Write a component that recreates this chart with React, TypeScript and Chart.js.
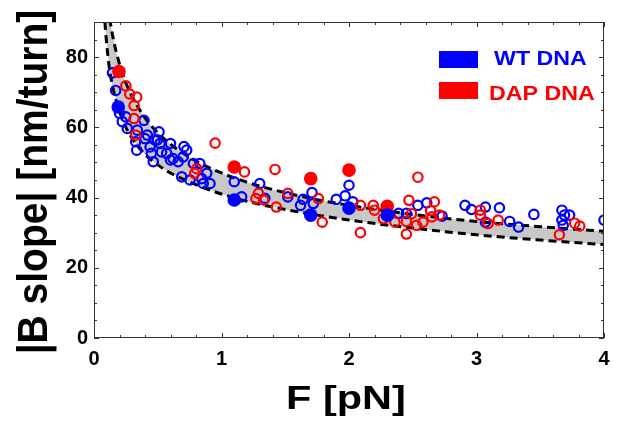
import { useEffect, useRef } from "react";
import { Chart, registerables } from "chart.js";

Chart.register(...registerables);

// ---- data ----
const curveF = [0.085, 0.1, 0.12, 0.15, 0.2, 0.25, 0.3, 0.4, 0.5, 0.6, 0.8, 1.0, 1.25, 1.5, 1.75, 2.0, 2.5, 3.0, 3.5, 4.0];
const upperB = [102, 97, 91.7, 85.4, 78, 72.7, 68.7, 62.7, 58.5, 55.2, 50.4, 47, 43.8, 41.4, 39.4, 37.8, 35.2, 33.2, 31.7, 30.4];
const lowerB = [90, 83.5, 77, 71, 64.5, 60, 56.8, 52.3, 49.3, 47, 43.7, 41, 38.5, 36.6, 35, 33.6, 31.3, 29.4, 27.9, 26.6];

const wtOpen: [number, number][] = [
  [0.145, 75.5], [0.17, 70.5], [0.2, 64], [0.222, 61.6], [0.249, 63], [0.261, 59.7],
  [0.327, 55.9], [0.335, 53.5], [0.34, 59.2], [0.392, 62], [0.4, 56.8], [0.418, 57.8],
  [0.44, 54.4], [0.45, 52.6], [0.465, 50.2], [0.478, 56.4], [0.497, 56.4], [0.51, 58.7],
  [0.518, 55.4], [0.53, 53], [0.57, 52.6], [0.6, 50.7], [0.6, 55.4], [0.62, 51.1],
  [0.66, 50.2], [0.688, 45.9], [0.7, 51.6], [0.706, 54.5], [0.727, 53.5], [0.753, 45],
  [0.78, 49.7], [0.83, 49.7], [0.845, 45.4], [0.857, 44], [0.884, 46.9], [0.91, 44],
  [1.1, 44.5], [1.158, 40.2], [1.3, 44], [1.34, 39.8], [1.52, 40.2], [1.62, 37.8],
  [1.64, 39.5], [1.71, 41.4], [1.72, 38.3], [1.9, 39.5], [1.97, 40.5], [2.0, 43.5],
  [2.03, 38.8], [2.39, 35.5], [2.45, 35.5], [2.54, 37.8], [2.61, 38.5], [2.73, 34.7],
  [2.91, 37.8], [2.96, 36.6], [3.07, 37.3], [3.07, 33], [3.18, 37.1], [3.26, 33.2],
  [3.33, 31.6], [3.45, 35.2], [3.67, 36.4], [3.69, 35], [3.67, 33.6], [3.68, 32.1],
  [3.73, 35], [4.0, 33.6],
];

const dapOpen: [number, number][] = [
  [0.25, 71.8], [0.28, 69.5], [0.335, 68.6], [0.314, 66.2], [0.314, 62.5], [0.327, 57.8],
  [0.79, 46.9], [0.805, 48.2], [0.95, 55.5], [1.18, 47.3], [1.27, 39.7], [1.29, 41.2],
  [1.33, 39.3], [1.42, 48], [1.43, 37.3], [1.52, 41.2], [1.76, 39.7], [1.79, 33],
  [2.09, 37.8], [2.09, 30], [2.19, 37.8], [2.2, 36.4], [2.27, 34], [2.36, 33],
  [2.45, 33.2], [2.45, 29.6], [2.47, 39.2], [2.49, 35.4], [2.53, 32.1], [2.54, 45.8],
  [2.58, 33], [2.64, 36.3], [2.65, 34.5], [2.67, 38.8], [2.71, 35], [3.03, 36.4],
  [3.03, 35], [3.09, 32.6], [3.17, 33.6], [3.65, 29.4], [3.77, 32.7], [3.81, 31.9],
];

const wtFilled: [number, number][] = [[0.19, 65.8], [1.1, 39.3], [1.7, 35], [2.0, 37], [2.3, 35]];
const dapFilled: [number, number][] = [[0.196, 75.9], [1.1, 48.7], [1.7, 45.4], [2.0, 47.8], [2.3, 37.5]];

const xTickValues = [0, 1, 2, 3, 4];
const yTickValues = [0, 20, 40, 60, 80];
const xTitle = "F [pN]";
const yTitle = "|B slope| [nm/turn]";
const legendLabels = ["WT DNA", "DAP DNA"];

const BLUE = "#0000ff";
const RED = "#ff0000";
const FONT = "'Liberation Sans', Arial, sans-serif";

const toPts = (arr: [number, number][]) => arr.map(([x, y]) => ({ x, y }));

const decorPlugin = {
  id: "decor",
  afterDatasetsDraw(chart: any) {
    const { ctx, chartArea: a, scales } = chart;
    const xs = scales.x;
    const ys = scales.y;
    ctx.save();
    ctx.strokeStyle = "#333";
    ctx.lineWidth = 1;
    ctx.strokeRect(a.left + 0.5, a.top + 0.5, a.right - a.left - 1, a.bottom - a.top - 1);
    ctx.beginPath();
    for (let i = 0; i <= 20; i++) {
      const px = Math.round(xs.getPixelForValue(i * 0.2)) + 0.5;
      const len = i % 5 === 0 ? 5 : 3;
      ctx.moveTo(px, a.bottom);
      ctx.lineTo(px, a.bottom - len);
      ctx.moveTo(px, a.top);
      ctx.lineTo(px, a.top + len);
    }
    for (let i = 0; i <= 18; i++) {
      const py = Math.round(ys.getPixelForValue(i * 5)) + 0.5;
      const len = i % 4 === 0 ? 5 : 3;
      ctx.moveTo(a.left, py);
      ctx.lineTo(a.left + len, py);
      ctx.moveTo(a.right, py);
      ctx.lineTo(a.right - len, py);
    }
    ctx.stroke();
    ctx.restore();
  },
  afterDraw(chart: any) {
    const { ctx } = chart;
    ctx.save();
    // x title
    ctx.fillStyle = "#000";
    ctx.textBaseline = "alphabetic";
    ctx.textAlign = "center";
    ctx.font = `bold 34px ${FONT}`;
    ctx.save();
    ctx.translate(346, 409);
    ctx.scale(1.22, 1);
    ctx.fillText(xTitle, 0, 0);
    ctx.restore();
    // y title
    ctx.font = `bold 39px ${FONT}`;
    ctx.save();
    ctx.translate(47, 182);
    ctx.rotate(-Math.PI / 2);
    ctx.scale(1, 1.07);
    ctx.fillText(yTitle, 0, 0);
    ctx.restore();
    // legend
    const rows = [
      { label: legendLabels[0], color: BLUE, top: 51, textX: 494, base: 65 },
      { label: legendLabels[1], color: RED, top: 82, textX: 489, base: 99.5 },
    ];
    ctx.textAlign = "left";
    ctx.font = `bold 20px ${FONT}`;
    for (const r of rows) {
      ctx.fillStyle = r.color;
      ctx.fillRect(439, r.top, 39, 17);
      ctx.save();
      ctx.translate(r.textX, r.base);
      ctx.scale(1.16, 1);
      ctx.fillText(r.label, 0, 0);
      ctx.restore();
    }
    ctx.restore();
  },
};

export default function App() {
  const ref = useRef<HTMLCanvasElement | null>(null);
  useEffect(() => {
    if (!ref.current) return;
    const chart = new Chart(ref.current, {
      type: "scatter",
      data: {
        datasets: [
          {
            label: "upper",
            data: curveF.map((f, i) => ({ x: f, y: upperB[i] })),
            showLine: true,
            borderColor: "#000",
            borderWidth: 3,
            borderDash: [8, 5],
            pointRadius: 0,
            cubicInterpolationMode: "monotone",
            fill: 1,
            backgroundColor: "#c8c8c8",
            order: 4,
          },
          {
            label: "lower",
            data: curveF.map((f, i) => ({ x: f, y: lowerB[i] })),
            showLine: true,
            borderColor: "#000",
            borderWidth: 3,
            borderDash: [8, 5],
            pointRadius: 0,
            cubicInterpolationMode: "monotone",
            fill: false,
            order: 3,
          },
          {
            label: "WT open",
            data: toPts(wtOpen),
            pointRadius: 4.7,
            pointBorderWidth: 2.2,
            pointBorderColor: BLUE,
            pointBackgroundColor: "rgba(0,0,0,0)",
            order: 2,
          },
          {
            label: "DAP open",
            data: toPts(dapOpen),
            pointRadius: 4.7,
            pointBorderWidth: 2.2,
            pointBorderColor: RED,
            pointBackgroundColor: "rgba(0,0,0,0)",
            order: 1,
          },
          {
            label: "WT filled",
            data: toPts(wtFilled),
            pointRadius: 6.8,
            pointBorderWidth: 0,
            pointBackgroundColor: BLUE,
            pointBorderColor: BLUE,
            order: 0,
          },
          {
            label: "DAP filled",
            data: toPts(dapFilled),
            pointRadius: 6.8,
            pointBorderWidth: 0,
            pointBackgroundColor: RED,
            pointBorderColor: RED,
            order: 0,
          },
        ],
      } as any,
      options: {
        animation: false,
        responsive: false,
        layout: { padding: { left: 0, right: 18, top: 22, bottom: 0 } },
        plugins: { legend: { display: false }, tooltip: { enabled: false } },
        scales: {
          x: {
            type: "linear",
            min: 0,
            max: 4,
            grid: { display: false, drawTicks: false },
            border: { display: false },
            afterBuildTicks: (s: any) => {
              s.ticks = xTickValues.map((v) => ({ value: v }));
            },
            afterFit: (s: any) => {
              s.height = 85;
            },
            ticks: {
              autoSkip: false,
              maxRotation: 0,
              padding: 9,
              color: "#000",
              font: { family: FONT, size: 20, weight: "bold" },
            },
          },
          y: {
            type: "linear",
            min: 0,
            max: 90,
            grid: { display: false, drawTicks: false },
            border: { display: false },
            afterBuildTicks: (s: any) => {
              s.ticks = yTickValues.map((v) => ({ value: v }));
            },
            afterFit: (s: any) => {
              s.width = 94;
            },
            ticks: {
              autoSkip: false,
              padding: 6,
              color: "#000",
              font: { family: FONT, size: 20, weight: "bold" },
            },
          },
        },
      } as any,
      plugins: [decorPlugin],
    });
    return () => chart.destroy();
  }, []);
  return (
    <div style={{ position: "fixed", left: 0, top: 0, width: 622, height: 423, background: "#fff" }}>
      <canvas ref={ref} width={622} height={423} style={{ display: "block" }} />
    </div>
  );
}
